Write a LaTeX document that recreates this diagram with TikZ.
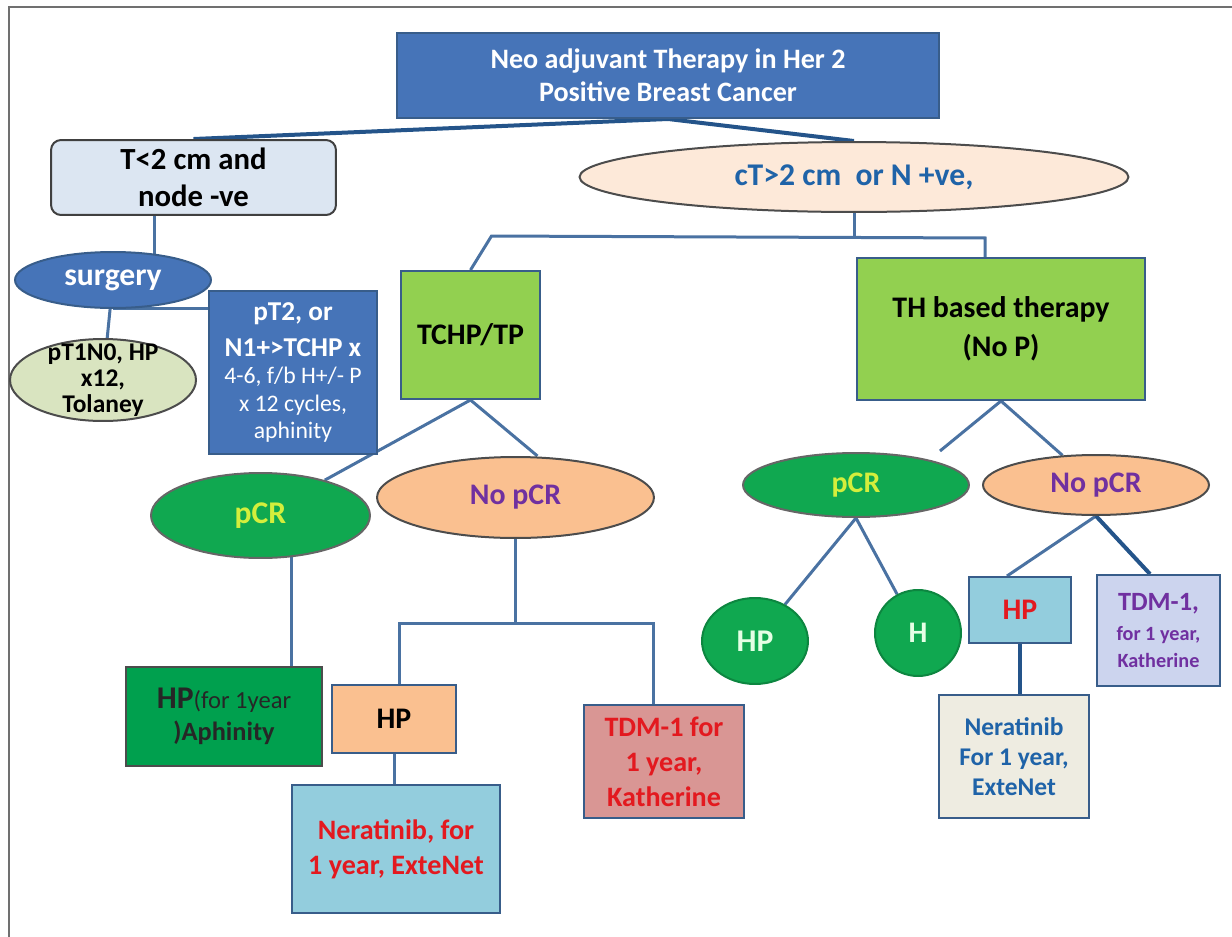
\documentclass[tikz,border=0pt]{standalone}
\usepackage{fontspec}
\setmainfont{Carlito}
\usepackage{xcolor}
\usetikzlibrary{shapes.geometric,backgrounds}

\definecolor{titleblue}{HTML}{4674B8}
\definecolor{edgeblue}{HTML}{385D8A}
\definecolor{linkblue}{HTML}{4A72A2}
\definecolor{trunkblue}{HTML}{24548A}
\definecolor{paleblue}{HTML}{DCE6F2}
\definecolor{palepeach}{HTML}{FDE9D9}
\definecolor{palegreen}{HTML}{D9E4C0}
\definecolor{limegreen}{HTML}{92D050}
\definecolor{leafgreen}{HTML}{10A850}
\definecolor{deepgreen}{HTML}{00A04E}
\definecolor{peach}{HTML}{FAC090}
\definecolor{skyblue}{HTML}{93CDDD}
\definecolor{rose}{HTML}{D99694}
\definecolor{lavender}{HTML}{CCD4EE}
\definecolor{beige}{HTML}{EEECE1}
\definecolor{txtred}{HTML}{E3191F}
\definecolor{txtpurple}{HTML}{7030A0}
\definecolor{txtblue}{HTML}{1F63A8}
\definecolor{txtlime}{HTML}{D4EE3C}
\definecolor{framegray}{HTML}{707070}

\newcommand{\setfs}[2]{\fontsize{#1}{#2}\selectfont}

\begin{document}
\begin{tikzpicture}[x=0.02cm, y=-0.02cm,
    box/.style={draw=edgeblue, line width=0.04cm, rectangle, align=center, font=\bfseries\setfs{17}{22}, inner sep=1pt},
    oval/.style={draw=black!70, line width=0.04cm, ellipse, align=center, font=\bfseries\setfs{17}{22}, inner sep=0pt},
    link/.style={draw=linkblue, line width=0.06cm},
    trunk/.style={draw=trunkblue, line width=0.08cm}
]
\useasboundingbox (0,0) rectangle (1232,937);
\draw[framegray, line width=0.03cm] (9,937) -- (9,7) -- (1232,7);

\node[box, fill=titleblue, text=white, minimum width=10.84cm, minimum height=1.7cm, font=\bfseries\setfs{16}{19}] (title) at (668,75.5) {Neo adjuvant Therapy in Her 2\\Positive Breast Cancer};
\node[box, draw=black!75, rounded corners=0.2cm, fill=paleblue, minimum width=5.7cm, minimum height=1.5cm, font=\bfseries\setfs{17.5}{21}] (tl) at (193.5,177.5) {T<2 cm and\\node -ve};
\node[oval, fill=palepeach, text=txtblue, minimum width=10.98cm, minimum height=1.4cm, font=\bfseries\setfs{18}{22}] (ct) at (854,177) {cT>2 cm~ or N +ve,};

\node[oval, draw=edgeblue, fill=titleblue, text=white, minimum width=3.92cm, minimum height=1.12cm, font=\bfseries\setfs{18}{22}] (surgery) at (113,280) {surgery};
\node[oval, fill=palegreen, minimum width=3.72cm, minimum height=1.64cm, inner ysep=-8pt, font=\bfseries\setfs{14.5}{15}] (pt1) at (103,380) {pT1N0, HP\\x12,\\Tolaney};
\node[box, fill=titleblue, text=white, minimum width=3.36cm, minimum height=3.26cm, font=\setfs{13.5}{15.5}] (pt2) at (293,372.5) {{\bfseries\setfs{15.5}{18}pT2, or}\\[5pt]{\bfseries\setfs{15.5}{18}N1+>TCHP x}\\4-6, f/b H+/- P\\x 12 cycles,\\aphinity};

\node[box, fill=limegreen, minimum width=2.78cm, minimum height=2.56cm] (tchp) at (470.5,335) {TCHP/TP};
\node[box, fill=limegreen, minimum width=5.76cm, minimum height=2.84cm] (th) at (1001,329) {TH based therapy\\(No P)};

\node[oval, draw=black!60, fill=leafgreen, text=txtlime, minimum width=4.38cm, minimum height=1.7cm, font=\bfseries\setfs{18}{22}] (pcrL) at (260.5,515.5) {pCR};
\node[oval, fill=peach, text=txtpurple, minimum width=5.54cm, minimum height=1.62cm] (nopcrL) at (515.5,497.5) {No pCR};
\node[oval, draw=black!60, fill=leafgreen, text=txtlime, minimum width=4.52cm, minimum height=1.28cm] (pcrR) at (856,485) {pCR};
\node[oval, fill=peach, text=txtpurple, minimum width=4.52cm, minimum height=1.2cm] (nopcrR) at (1096,485) {No pCR};

\node[oval, draw=leafgreen!80!black, fill=leafgreen, text=green!10, minimum width=2.12cm, minimum height=1.72cm, font=\bfseries\setfs{18}{22}] (hpc) at (755,641) {HP};
\node[oval, draw=leafgreen!80!black, fill=leafgreen, text=green!10, minimum width=1.72cm, minimum height=1.72cm] (hc) at (918,633) {H};
\node[box, fill=skyblue, text=txtred, minimum width=2.04cm, minimum height=1.32cm] (hpR) at (1020,610) {HP};
\node[box, fill=lavender, text=txtpurple, minimum width=2.46cm, minimum height=2.22cm, font=\bfseries\setfs{11.5}{15}] (tdmR) at (1158.5,630.5) {{\setfs{15}{18}TDM-1,}\\[2pt]for 1 year,\\Katherine};
\node[box, fill=beige, text=txtblue, minimum width=3cm, minimum height=2.46cm, font=\bfseries\setfs{14.5}{17}] (nerR) at (1014,756.5) {Neratinib\\For 1 year,\\ExteNet};

\node[box, draw=black!70, fill=deepgreen, text=black!85, minimum width=3.92cm, minimum height=1.98cm, font=\bfseries\setfs{15}{18}] (hpL) at (224,716.5) {{\setfs{18}{20}HP}{\mdseries\setfs{14}{18}(for 1year}\\)Aphinity};
\node[box, fill=peach, minimum width=2.48cm, minimum height=1.36cm] (hpo) at (394,719) {HP};
\node[box, fill=rose, text=txtred, minimum width=3.2cm, minimum height=2.26cm, font=\bfseries\setfs{16}{20}] (tdmL) at (664,761.5) {TDM-1 for\\1 year,\\Katherine};
\node[box, fill=skyblue, text=txtred, minimum width=4.16cm, minimum height=2.56cm, font=\bfseries\setfs{16}{20}] (nerL) at (396,849) {Neratinib, for\\1 year, ExteNet};

\begin{scope}[on background layer]
\draw[trunk] (title.south) -- (tl.north);
\draw[trunk] (title.south) -- (ct.north);
\draw[link] ([xshift=-0.79cm]tl.south) -- ([xshift=-0.79cm]tl.south |- surgery.center);
\draw[link] (surgery) -- (pt1);
\draw[link] (surgery.south) -- (surgery.south -| pt2.west);
\draw[link] (ct.south) -- ++(0,25) coordinate (ctj);
\draw[link] (tchp.north) -- ++(21,-34) -- ([xshift=-0.32cm]th.north |- ctj) -- ([xshift=-0.32cm]th.north);
\draw[link] (tchp.south) -- (pcrL);
\draw[link] (tchp.south) -- ([xshift=0.44cm]nopcrL.north);
\draw[link] (th.south) -- ++(-61,50) coordinate (thstub);
\draw[link] (th.south) -- (nopcrR);
\draw[link] (pcrR.south) -- (hpc);
\draw[link] (pcrR.south) -- (hc);
\draw[link] (nopcrR.south) -- ([xshift=-0.26cm]hpR.north);
\draw[trunk] (nopcrR.south) -- ([xshift=-0.17cm]tdmR.north);
\draw[trunk] (hpR.south) -- (hpR.south |- nerR.north);
\draw[link] ([xshift=0.63cm]pcrL.center) -- ([xshift=0.63cm]pcrL.center |- hpL.north);
\draw[link] (nopcrL.south) -- ++(0,85) coordinate (jL);
\draw[link] ([xshift=0.1cm]hpo.north) |- (jL) -| ([xshift=-0.22cm]tdmL.north);
\draw[link] (hpo.south) -- (hpo.south |- nerL.north);
\end{scope}

\end{tikzpicture}
\end{document}
